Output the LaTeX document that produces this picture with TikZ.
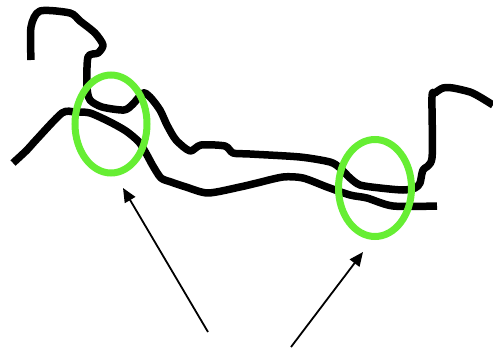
\documentclass[tikz,border=0pt]{standalone}
\usetikzlibrary{arrows.meta,shapes.geometric}
\definecolor{hoopgreen}{RGB}{102,238,51}
\tikzset{
  track/.style={line width=7.5pt, line join=round, line cap=butt, black},
  hoop/.style={ellipse, draw=hoopgreen, line width=7pt, inner sep=0pt},
  pointer/.style={line width=1.8pt, -{Triangle[length=14pt,width=12pt]}}
}
\begin{document}
\begin{tikzpicture}[x=1pt,y=-1pt]
\useasboundingbox (0,0) rectangle (493,349);
% upper strand
\draw[track] plot[smooth, tension=0.45] coordinates {
  (31,60) (31,27) (40,11) (70,13) (80,21) (95,33) (103,45) (98,53) (88,57)
  (87,87) (90,100) (102,107) (124,110) (133,104) (143,93) (150,97) (160,110)
  (167,125) (176,140) (190,151) (201,145) (225,146) (233,153) (250,154)
  (300,157) (330,162) (340,168) (350,178) (360,185) (380,188) (403,190)
  (415,188) (420,183) (423,170) (432,158) (432,97) (435,93) (443,88)
  (453,88) (470,92) (480,97) (493,105)};
% lower strand
\draw[track] plot[smooth, tension=0.45] coordinates {
  (13,163) (27,150) (36,140) (62,113) (75,112) (90,113) (110,122) (126,131)
  (139,142) (147,155) (153,166) (161,178) (171,182) (186,187) (208,193)
  (240,187) (257,183) (283,177) (303,178) (327,187) (350,195) (367,198)
  (393,206) (437,206)};
% highlighted crossings
\node[hoop, minimum width=72pt, minimum height=98pt] (hoopL) at (111,124) {};
\node[hoop, minimum width=73pt, minimum height=97pt] (hoopR) at (375,188) {};
% arrows pointing at the crossings
\coordinate (tailL) at (208,332);
\coordinate (tipL) at (123,188);
\coordinate (tailR) at (291,347);
\coordinate (tipR) at (363,252);
\draw[pointer] (tailL) -- (tipL);
\draw[pointer] (tailR) -- (tipR);
\end{tikzpicture}
\end{document}
